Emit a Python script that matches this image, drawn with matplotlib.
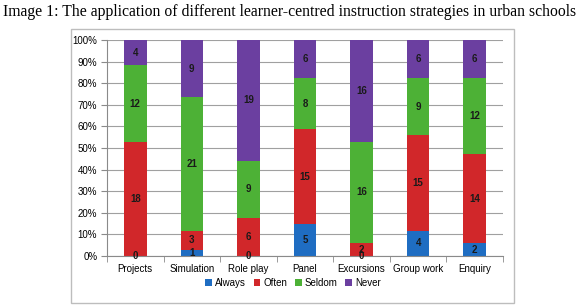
import numpy as np
import matplotlib.pyplot as plt
from matplotlib.patches import Rectangle

categories = ["Projects", "Simulation", "Role play", "Panel", "Excursions", "Group work", "Enquiry"]
always = [0, 1, 0, 5, 0, 4, 2]
often = [18, 3, 6, 15, 2, 15, 14]
seldom = [12, 21, 9, 8, 16, 9, 12]
never = [4, 9, 19, 6, 16, 6, 6]

series = [("Always", always, "#1F6DC2"),
          ("Often", often, "#D1272A"),
          ("Seldom", seldom, "#4DB136"),
          ("Never", never, "#6B3FA0")]

title = "Image 1: The application of different learner-centred instruction strategies in urban schools"

fig = plt.figure(figsize=(5.8, 3.05), dpi=100)
fig.patches.append(Rectangle((71 / 580, 2 / 305), 443 / 580, 274 / 305, transform=fig.transFigure,
                             fill=False, edgecolor="#BDBDBD", linewidth=1.0))
fig.text(0.5, 1 - 12 / 305, title, ha="center", va="center", family="Liberation Serif", fontsize=11.3)

ax = fig.add_axes([107 / 580, 49 / 305, 396 / 580, 216 / 305])

x = np.arange(len(categories))
totals = np.sum([s[1] for s in series], axis=0)
bottom = np.zeros(len(categories))
for name, vals, color in series:
    frac = np.array(vals) / totals * 100
    ax.bar(x, frac, 0.4, bottom=bottom, color=color, label=name, zorder=2)
    for xi, b, f, v in zip(x, bottom, frac, vals):
        ax.text(xi, b + f / 2, str(v), ha="center", va="center", fontsize=7,
                color="#1a1a1a", fontweight="bold", family="Liberation Sans", zorder=3)
    bottom += frac

ax.set_xlim(-0.5, len(categories) - 0.5)
ax.set_ylim(0, 100)
ax.set_yticks(np.arange(0, 101, 10))
ax.set_yticklabels([f"{v}%" for v in range(0, 101, 10)], family="Liberation Sans", fontsize=7)
ax.yaxis.grid(True, color="#A0A0A0", linewidth=0.8, zorder=0)
ax.set_axisbelow(True)

ax.set_xticks(x)
ax.set_xticklabels(categories, family="Liberation Sans", fontsize=7)
ax.tick_params(axis="x", length=0, pad=6)
ax.set_xticks(np.arange(-0.5, len(categories), 1), minor=True)
ax.tick_params(axis="x", which="minor", length=4, color="#8A8A8A", direction="out")
ax.tick_params(axis="y", length=4, color="#8A8A8A", direction="out", pad=3)

for side in ["top", "right"]:
    ax.spines[side].set_visible(False)
ax.spines["left"].set_color("#8A8A8A")
ax.spines["bottom"].set_color("#8A8A8A")

fig.legend(loc="center", bbox_to_anchor=(293 / 580, 22 / 305), ncol=4, frameon=False,
           prop={"family": "Liberation Sans", "size": 7}, handlelength=0.7, handleheight=0.7,
           handletextpad=0.3, columnspacing=0.8)

fig.savefig("out.png", dpi=100)
